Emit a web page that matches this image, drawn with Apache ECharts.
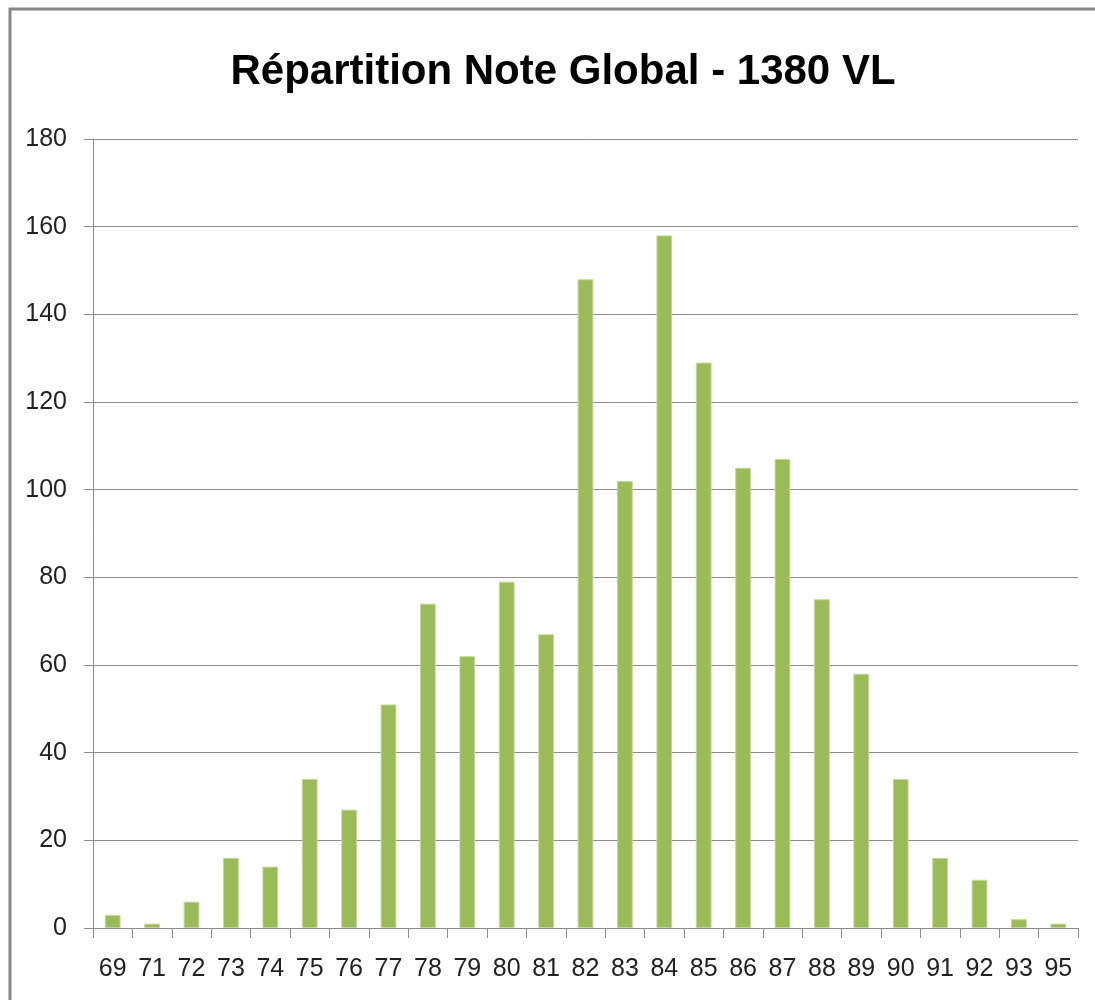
<!DOCTYPE html>
<html>
<head>
<meta charset="utf-8">
<script src="https://cdn.jsdelivr.net/npm/echarts@6/dist/echarts.min.js"></script>
<style>
  html,body{margin:0;padding:0;background:#fff;}
  #chart{width:1095px;height:1000px;}
</style>
</head>
<body>
<div id="chart"></div>
<script>
// notes (x) and number of VL per note
const notes = ['69','71','72','73','74','75','76','77','78','79','80','81','82','83','84','85','86','87','88','89','90','91','92','93','95'];
const counts = [3,1,6,16,14,34,27,51,74,62,79,67,148,102,158,129,105,107,75,58,34,16,11,2,1];
const yTicks = { min:0, max:180, interval:20 };

const FONT = '"Liberation Sans", sans-serif';
const GRID = '#8c8c8c';

const chart = echarts.init(document.getElementById('chart'));
chart.setOption({
  animation:false,
  backgroundColor:'#fff',
  title:{
    text:'Répartition Note Global - 1380 VL',
    left:558, top:46, textAlign:'center',
    textStyle:{ fontFamily:FONT, fontWeight:'bold', fontSize:42, color:'#000' }
  },
  graphic:[{
    type:'rect', shape:{ x:10, y:9, width:1200, height:1200 },
    style:{ fill:'none', stroke:'#878787', lineWidth:3 }, silent:true
  }],
  grid:{ left:93, right:17, top:139, bottom:72, containLabel:false },
  xAxis:{
    type:'category', data:notes,
    axisLine:{ lineStyle:{ color:GRID, width:1 } },
    axisTick:{ show:true, length:10, lineStyle:{ color:GRID } },
    axisLabel:{ color:'#222', fontFamily:FONT, fontSize:25, margin:29, interval:0 }
  },
  yAxis:{
    type:'value', min:yTicks.min, max:yTicks.max, interval:yTicks.interval,
    axisLine:{ show:true, lineStyle:{ color:GRID, width:1 } },
    axisTick:{ show:true, length:9, lineStyle:{ color:GRID } },
    axisLabel:{ color:'#222', fontFamily:FONT, fontSize:25, margin:26 },
    splitLine:{ lineStyle:{ color:GRID, width:1 } }
  },
  series:[{
    type:'bar', data:counts, barWidth:'40%',
    itemStyle:{ color:'#9bbb59', borderColor:'#c3d69b', borderWidth:1 }
  }]
});
</script>
</body>
</html>
